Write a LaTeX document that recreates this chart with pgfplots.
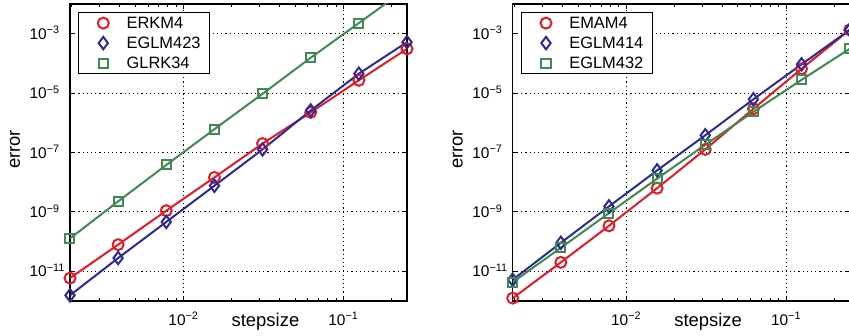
\documentclass[border=0pt]{standalone}
\usepackage{fontspec}
\setmainfont{Liberation Sans}
\usepackage{pgfplots}
\pgfplotsset{compat=1.18}
\definecolor{cred}{RGB}{228,26,36}
\definecolor{cblue}{RGB}{43,43,150}
\definecolor{cgreen}{RGB}{63,138,80}
\begin{document}
\begin{tikzpicture}
\begin{axis}[at={(70bp,35bp)}, anchor=south west,
  scale only axis, width=337bp, height=297bp,
  xmode=log, ymode=log,
  xmin=0.001953125, xmax=0.25, ymin=1e-12, ymax=1e-2,
  xtick={0.01,0.1},
  xticklabels={10\textsuperscript{−2},10\textsuperscript{−1}},
  minor xtick={0.002,0.003,0.004,0.005,0.006,0.007,0.008,0.009,0.02,0.03,0.04,0.05,0.06,0.07,0.08,0.09,0.2},
  ytick={1e-11,1e-9,1e-7,1e-5,1e-3},
  yticklabels={10\rlap{\textsuperscript{−11}},10\rlap{\textsuperscript{−9}},10\rlap{\textsuperscript{−7}},10\rlap{\textsuperscript{−5}},10\rlap{\textsuperscript{−3}}},
  xtick pos=both, ytick pos=both, tick align=inside,
  major tick length=5bp, minor tick length=3bp,
  every tick/.style={black, line width=0.9bp},
  axis line style={black, line width=1.5bp},
  grid=major,
  major grid style={black, line width=0.9bp, dash pattern=on 1.2bp off 3bp},
  xticklabel style={font=\fontsize{15.5}{18}\selectfont, anchor=base, inner sep=0pt, yshift=-24bp},
  yticklabel style={font=\fontsize{15.5}{18}\selectfont, anchor=base east, inner sep=0pt, xshift=-23bp, yshift=-5.5bp},
  xlabel={stepsize}, ylabel={error},
  xlabel style={font=\fontsize{18.5}{22}\selectfont, at={(axis description cs:0.58,0)}, anchor=base, inner sep=0pt, yshift=-25bp},
  ylabel style={font=\fontsize{18.5}{22}\selectfont, at={(axis description cs:0,0.51)}, anchor=base, inner sep=0pt, yshift=50bp},
  legend style={at={(axis description cs:0,1)}, anchor=north west, xshift=8bp, yshift=-8bp,
    draw=black, line width=1.2bp, fill=white, inner xsep=0pt, inner ysep=4bp,
    row sep=7bp, column sep=17.8bp, nodes={inner sep=0pt},
    font=\fontsize{16.5}{19}\selectfont},
  legend cell align=left,
  legend image code/.code={%
    \node[draw=none, fill=none, inner sep=0pt, minimum width=30.2bp, minimum height=13bp, anchor=east] at (6.5bp,0bp) {};
    \draw[#1] plot[only marks] coordinates {(0bp,0bp)};},
  ]
\addplot[color=cred, line width=2bp, mark=o, mark size=5.5bp, mark options={solid}] coordinates {
 (0.001953125,5.9e-12) (0.00390625,7.9e-11) (0.0078125,1.1e-9) (0.015625,1.45e-8)
 (0.03125,2.0e-7) (0.0625,2.24e-6) (0.125,2.7e-5) (0.25,3.1e-4)};
\addlegendentry{ERKM4\hspace*{9bp}}
\addplot[color=cblue, line width=2bp, mark=diamond, mark size=6.2bp, mark options={solid}] coordinates {
 (0.001953125,1.55e-12) (0.00390625,2.8e-11) (0.0078125,4.6e-10) (0.015625,7.6e-9)
 (0.03125,1.27e-7) (0.0625,2.6e-6) (0.125,4.5e-5) (0.25,5.2e-4)};
\addlegendentry{EGLM423\hspace*{9bp}}
\addplot[color=cgreen, line width=2bp, mark=square, mark size=4.5bp, mark options={solid}] coordinates {
 (0.001953125,1.28e-10) (0.00390625,2.26e-9) (0.0078125,3.8e-8) (0.015625,6.1e-7)
 (0.03125,9.5e-6) (0.0625,1.55e-4) (0.125,2.28e-3) (0.25,3.4e-2)};
\addlegendentry{GLRK34\hspace*{9bp}}
\end{axis}
\begin{axis}[at={(512.7bp,35bp)}, anchor=south west,
  scale only axis, width=337bp, height=297bp,
  xmode=log, ymode=log,
  xmin=0.001953125, xmax=0.25, ymin=1e-12, ymax=1e-2,
  xtick={0.01,0.1},
  xticklabels={10\textsuperscript{−2},10\textsuperscript{−1}},
  minor xtick={0.002,0.003,0.004,0.005,0.006,0.007,0.008,0.009,0.02,0.03,0.04,0.05,0.06,0.07,0.08,0.09,0.2},
  ytick={1e-11,1e-9,1e-7,1e-5,1e-3},
  yticklabels={10\rlap{\textsuperscript{−11}},10\rlap{\textsuperscript{−9}},10\rlap{\textsuperscript{−7}},10\rlap{\textsuperscript{−5}},10\rlap{\textsuperscript{−3}}},
  xtick pos=both, ytick pos=both, tick align=inside,
  major tick length=5bp, minor tick length=3bp,
  every tick/.style={black, line width=0.9bp},
  axis line style={black, line width=1.5bp},
  grid=major,
  major grid style={black, line width=0.9bp, dash pattern=on 1.2bp off 3bp},
  xticklabel style={font=\fontsize{15.5}{18}\selectfont, anchor=base, inner sep=0pt, yshift=-24bp},
  yticklabel style={font=\fontsize{15.5}{18}\selectfont, anchor=base east, inner sep=0pt, xshift=-23bp, yshift=-5.5bp},
  xlabel={stepsize}, ylabel={error},
  xlabel style={font=\fontsize{18.5}{22}\selectfont, at={(axis description cs:0.58,0)}, anchor=base, inner sep=0pt, yshift=-25bp},
  ylabel style={font=\fontsize{18.5}{22}\selectfont, at={(axis description cs:0,0.51)}, anchor=base, inner sep=0pt, yshift=50bp},
  legend style={at={(axis description cs:0,1)}, anchor=north west, xshift=8bp, yshift=-8bp,
    draw=black, line width=1.2bp, fill=white, inner xsep=0pt, inner ysep=4bp,
    row sep=7bp, column sep=17.8bp, nodes={inner sep=0pt},
    font=\fontsize{16.5}{19}\selectfont},
  legend cell align=left,
  legend image code/.code={%
    \node[draw=none, fill=none, inner sep=0pt, minimum width=30.2bp, minimum height=13bp, anchor=east] at (6.5bp,0bp) {};
    \draw[#1] plot[only marks] coordinates {(0bp,0bp)};},
  ]
\addplot[color=cred, line width=2bp, mark=o, mark size=5.5bp, mark options={solid}] coordinates {
 (0.001953125,1.25e-12) (0.00390625,2.0e-11) (0.0078125,3.4e-10) (0.015625,6.3e-9)
 (0.03125,1.27e-7) (0.0625,2.97e-6) (0.125,6.6e-5) (0.25,1.35e-3)};
\addlegendentry{EMAM4\hspace*{9bp}}
\addplot[color=cblue, line width=2bp, mark=diamond, mark size=6.2bp, mark options={solid}] coordinates {
 (0.001953125,5.2e-12) (0.00390625,9.1e-11) (0.0078125,1.53e-9) (0.015625,2.5e-8)
 (0.03125,3.8e-7) (0.0625,6.2e-6) (0.125,9.3e-5) (0.25,1.35e-3)};
\addlegendentry{EGLM414\hspace*{9bp}}
\addplot[color=cgreen, line width=2bp, mark=square, mark size=4.5bp, mark options={solid}] coordinates {
 (0.001953125,4.3e-12) (0.00390625,6.2e-11) (0.0078125,9.1e-10) (0.015625,1.32e-8)
 (0.03125,1.82e-7) (0.0625,2.35e-6) (0.125,2.8e-5) (0.25,3.1e-4)};
\addlegendentry{EGLM432\hspace*{9bp}}
\end{axis}
\pgfresetboundingbox
\useasboundingbox (0,0) rectangle (849bp,336bp);
\end{tikzpicture}
\end{document}
